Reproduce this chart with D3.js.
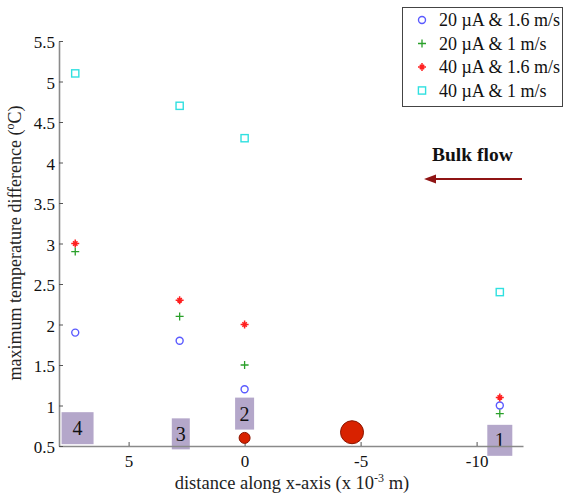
<!DOCTYPE html>
<html>
<head>
<meta charset="utf-8">
<script src="https://cdn.jsdelivr.net/npm/d3@7"></script>
<style>
  html, body { margin: 0; padding: 0; background: #fff; }
  svg { display: block; }
</style>
</head>
<body>
<svg id="chart" width="566" height="495"></svg>
<script>
// ---- data ----
const positions = [7.3, 2.8, 0, -11];           // distance along x-axis (x 10^-3 m)
const blue20_16 = [1.9, 1.8, 1.2, 1.0];         // 20 µA & 1.6 m/s
const green20_1 = [2.9, 2.1, 1.5, 0.9];         // 20 µA & 1 m/s
const red40_16  = [3.0, 2.3, 2.0, 1.1];         // 40 µA & 1.6 m/s
const cyan40_1  = [5.1, 4.7, 4.3, 2.4];         // 40 µA & 1 m/s
const seriesNames = ["20 µA & 1.6 m/s", "20 µA & 1 m/s", "40 µA & 1.6 m/s", "40 µA & 1 m/s"];
const xTicks = [5, 0, -5, -10];
const yTicks = [0.5, 1, 1.5, 2, 2.5, 3, 3.5, 4, 4.5, 5, 5.5];
const sensorX = [0, -4.63];
const sensorY = [0.6, 0.67];
const boxLabels = ["4", "3", "2", "1"];
const boxX = [7.2, 2.75, 0, -11];
const boxY = [0.72, 0.65, 0.9, 0.57];

// ---- setup ----
const svg = d3.select("#chart");
const serif = "'Liberation Serif', 'DejaVu Serif', serif";
const x = d3.scaleLinear().domain([8, -12]).range([59, 523]);
const y = d3.scaleLinear().domain([0.5, 5.5]).range([446, 41]);
const axisColor = "#8a8a8a";

// annotation boxes (behind markers)
const boxW = [32, 18, 19, 25];
const boxH = [32, 31, 32, 31];
const boxes = svg.append("g");
boxLabels.forEach((lab, i) => {
  const cx = x(boxX[i]), cy = y(boxY[i]);
  boxes.append("rect")
    .attr("x", cx - boxW[i] / 2).attr("y", cy - boxH[i] / 2)
    .attr("width", boxW[i]).attr("height", boxH[i])
    .attr("fill", "#b4a7ca");
  boxes.append("text")
    .attr("x", cx).attr("y", cy + 7)
    .attr("text-anchor", "middle")
    .attr("font-family", serif).attr("font-size", 20)
    .attr("fill", "#111")
    .text(lab);
});

// axes
const xAxis = d3.axisBottom(x).tickValues(xTicks).tickSize(-4).tickSizeOuter(0)
  .tickPadding(9).tickFormat(d => String(d));
const gx = svg.append("g").attr("transform", `translate(0,${y(0.5)})`).call(xAxis);
const yAxis = d3.axisLeft(y).tickValues(yTicks).tickSize(-4).tickSizeOuter(0)
  .tickPadding(4).tickFormat(d => String(d));
const gy = svg.append("g").attr("transform", `translate(${x(8)},0)`).call(yAxis);
[gx, gy].forEach(g => {
  g.select(".domain").attr("stroke", axisColor).attr("stroke-width", 1.6);
  g.selectAll(".tick line").attr("stroke", "#555").attr("stroke-width", 1);
  g.selectAll(".tick text").attr("font-family", serif).attr("font-size", 17).attr("fill", "#111");
});
gy.selectAll(".tick text").attr("dy", "0.4em");

// axis titles
const xt = svg.append("text")
  .attr("x", 292).attr("y", 489)
  .attr("text-anchor", "middle")
  .attr("font-family", serif).attr("font-size", 18.5).attr("fill", "#222");
xt.append("tspan").text("distance along x-axis (x 10");
xt.append("tspan").attr("dy", -7).attr("font-size", 12).text("-3");
xt.append("tspan").attr("dy", 7).text(" m)");

const yt = svg.append("text")
  .attr("transform", "translate(21,243) rotate(-90)")
  .attr("text-anchor", "middle")
  .attr("font-family", serif).attr("font-size", 18).attr("fill", "#222");
yt.append("tspan").text("maximum temperature difference (");
yt.append("tspan").attr("dy", -7).attr("font-size", 12).text("o");
yt.append("tspan").attr("dy", 7).text("C)");

// marker drawers
function drawCircle(g, cx, cy) {
  g.append("circle").attr("cx", cx).attr("cy", cy).attr("r", 3.5)
    .attr("fill", "none").attr("stroke", "#5a5aff").attr("stroke-width", 1.4);
}
function drawPlus(g, cx, cy) {
  g.append("path").attr("d", `M${cx-4},${cy}H${cx+4}M${cx},${cy-4}V${cy+4}`)
    .attr("stroke", "#2aa02a").attr("stroke-width", 1.3).attr("fill", "none");
}
function drawStar(g, cx, cy) {
  g.append("path").attr("d",
    `M${cx-4},${cy}H${cx+4}M${cx},${cy-4}V${cy+4}M${cx-2.2},${cy-2.2}L${cx+2.2},${cy+2.2}M${cx-2.2},${cy+2.2}L${cx+2.2},${cy-2.2}`)
    .attr("stroke", "#ff2020").attr("stroke-width", 1.5).attr("fill", "none");
}
function drawSquare(g, cx, cy) {
  g.append("rect").attr("x", cx - 3.6).attr("y", cy - 3.6).attr("width", 7.2).attr("height", 7.2)
    .attr("fill", "none").attr("stroke", "#30e0e0").attr("stroke-width", 1.4);
}
const drawers = [drawCircle, drawPlus, drawStar, drawSquare];
const series = [blue20_16, green20_1, red40_16, cyan40_1];

// sensor circles
const sens = svg.append("g");
sensorX.forEach((sx, i) => {
  sens.append("circle").attr("cx", x(sx)).attr("cy", y(sensorY[i]))
    .attr("r", i === 0 ? 5.5 : 11.5)
    .attr("fill", "#d82200").attr("stroke", "#8a1500").attr("stroke-width", 1);
});

// data markers
const marks = svg.append("g");
series.forEach((vals, si) => {
  vals.forEach((v, i) => drawers[si](marks, x(positions[i]), y(v)));
});

// legend
const leg = svg.append("g");
leg.append("rect").attr("x", 402.5).attr("y", 7.5).attr("width", 160).attr("height", 99)
  .attr("fill", "#fff").attr("stroke", "#444").attr("stroke-width", 1);
seriesNames.forEach((name, i) => {
  const cy = 20 + i * 23.5;
  drawers[i](leg, 422, cy);
  leg.append("text").attr("x", 439).attr("y", cy + 6)
    .attr("font-family", serif).attr("font-size", 18).attr("fill", "#111")
    .text(name);
});

// bulk flow annotation
svg.append("text").attr("x", 432).attr("y", 161)
  .attr("font-family", serif).attr("font-size", 19.5).attr("font-weight", "bold")
  .attr("fill", "#111").text("Bulk flow");
svg.append("line").attr("x1", 522).attr("y1", 179).attr("x2", 434).attr("y2", 179)
  .attr("stroke", "#8f1414").attr("stroke-width", 2);
svg.append("path").attr("d", "M424,179L436,174.5L436,183.5Z").attr("fill", "#8f1414");
</script>
</body>
</html>
